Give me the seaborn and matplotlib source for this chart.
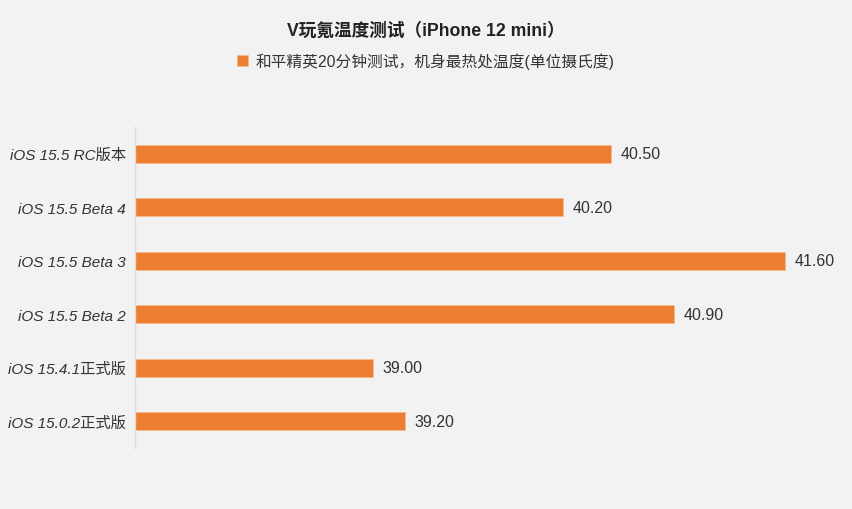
import seaborn as sns
import matplotlib.pyplot as plt

# data
versions = ['iOS 15.5 RC版本', 'iOS 15.5 Beta 4', 'iOS 15.5 Beta 3',
            'iOS 15.5 Beta 2', 'iOS 15.4.1正式版', 'iOS 15.0.2正式版']
temps = [40.50, 40.20, 41.60, 40.90, 39.00, 39.20]
series_name = '和平精英20分钟测试，机身最热处温度(单位摄氏度)'
title = 'V玩氪温度测试（iPhone 12 mini）'

bg = '#f2f2f2'
orange = '#ed7d31'

sns.set_style('white')
plt.rcParams['font.family'] = ['Liberation Sans', 'Noto Sans CJK SC', 'DejaVu Sans']

fig = plt.figure(figsize=(8.52, 5.10), dpi=100, facecolor=bg)
ax = fig.add_axes([0.1585, 0.1196, 0.8375, 0.6294])
ax.set_facecolor(bg)

sns.barplot(x=temps, y=versions, orient='h', color=orange, saturation=1,
            width=0.34, edgecolor='#f6b98e', linewidth=0.6,
            label=series_name, ax=ax)
handles, labels = ax.get_legend_handles_labels()
if ax.get_legend() is not None:
    ax.get_legend().remove()

ax.bar_label(ax.containers[0], fmt='%.2f', padding=7, fontsize=11.5, color='#333333')

ax.set_xlim(37.5, 42)
ax.set_xticks([])
ax.set_xlabel('')
ax.set_ylabel('')
for s in ['top', 'right', 'bottom']:
    ax.spines[s].set_visible(False)
ax.spines['left'].set_color('#dddddd')
ax.spines['left'].set_linewidth(1)
ax.tick_params(axis='y', length=0, pad=6.5)
for lbl in ax.get_yticklabels():
    lbl.set_fontstyle('italic')
    lbl.set_fontsize(11)
    lbl.set_color('#333333')

fig.text(0.5, 1 - 31 / 510, title, ha='center', va='center',
         fontsize=12.7, fontweight='bold', color='#222222')
fig.legend(handles, labels, loc='center', bbox_to_anchor=(0.5, 1 - 62 / 510),
           frameon=False, handlelength=0.7, handleheight=0.7, handletextpad=0.5,
           fontsize=11.3, labelcolor='#333333')

plt.savefig('out.png', dpi=100, facecolor=bg)
